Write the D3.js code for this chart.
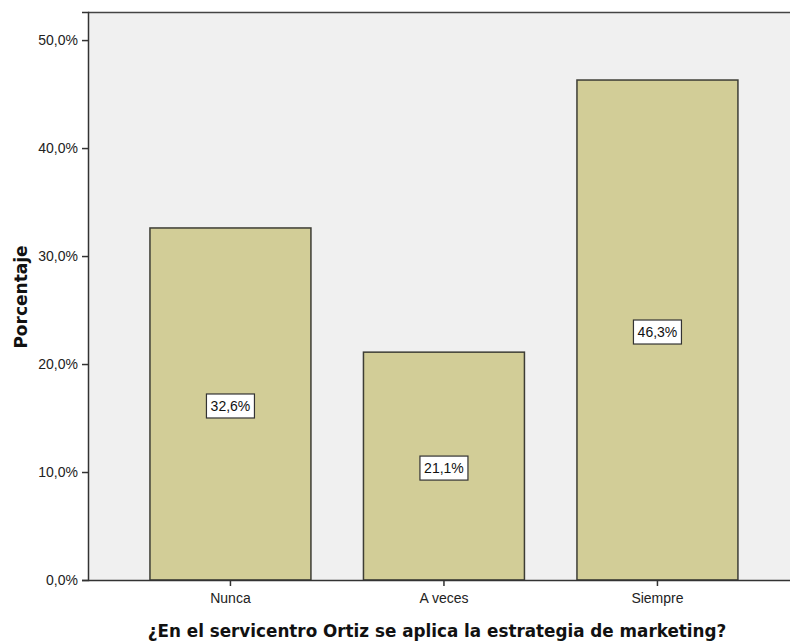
<!DOCTYPE html>
<html>
<head>
<meta charset="utf-8">
<script src="https://cdn.jsdelivr.net/npm/d3@7"></script>
<style>
  html, body { margin: 0; padding: 0; background: #ffffff; }
  svg { display: block; }
</style>
</head>
<body>
<svg id="chart" width="790" height="643"></svg>
<script>
const categories = ["Nunca", "A veces", "Siempre"];
const values = [32.6, 21.1, 46.3];
const yTicks = [0, 10, 20, 30, 40, 50];
const xTitle = "¿En el servicentro Ortiz se aplica la estrategia de marketing?";
const yTitle = "Porcentaje";

const svg = d3.select("#chart");
const plotLeft = 88, plotRight = 792, plotTop = 12, plotBottom = 580;

const y = d3.scaleLinear().domain([0, 52.6]).range([plotBottom, plotTop]);
const x = d3.scaleBand().domain(categories).range([123.7, 764.2]).paddingInner(0.246).paddingOuter(0.123);

const fmt = v => d3.format(".1f")(v).replace(".", ",") + "%";
const tickFont = "Liberation Sans, Arial, sans-serif";

// plot background
svg.append("rect")
  .attr("x", plotLeft).attr("y", plotTop)
  .attr("width", plotRight - plotLeft).attr("height", plotBottom - plotTop)
  .attr("fill", "#f0f0f0");

// top border
svg.append("line")
  .attr("x1", plotLeft).attr("x2", plotRight)
  .attr("y1", plotTop + 0.5).attr("y2", plotTop + 0.5)
  .attr("stroke", "#444").attr("stroke-width", 1.5);

// bars
svg.append("g").selectAll("rect").data(values).join("rect")
  .attr("x", (d, i) => x(categories[i]))
  .attr("y", d => y(d))
  .attr("width", x.bandwidth())
  .attr("height", d => y(0) - y(d))
  .attr("fill", "#d2cd97")
  .attr("stroke", "#3d3d35")
  .attr("stroke-width", 1.5);

// value labels
const lab = svg.append("g").selectAll("g").data(values).join("g")
  .attr("transform", (d, i) => `translate(${x(categories[i]) + x.bandwidth() / 2},${y(d / 2) + 2})`);
lab.append("rect")
  .attr("x", -24).attr("y", -12).attr("width", 48).attr("height", 24)
  .attr("fill", "#ffffff").attr("stroke", "#333").attr("stroke-width", 1.2);
lab.append("text")
  .attr("text-anchor", "middle").attr("dy", "0.36em")
  .attr("font-family", tickFont).attr("font-size", 14)
  .attr("fill", "#111")
  .text(d => fmt(d));

// y axis
const yAxis = d3.axisLeft(y).tickValues(yTicks).tickSize(6).tickPadding(4).tickFormat(fmt);
const gy = svg.append("g").attr("transform", `translate(${plotLeft},0)`).call(yAxis);
gy.select(".domain").attr("stroke", "#333").attr("stroke-width", 1.5);
gy.selectAll(".tick line").attr("stroke", "#333").attr("stroke-width", 1.5);
gy.selectAll(".tick text").attr("font-family", tickFont).attr("font-size", 14).attr("fill", "#222");

// x axis
const xAxis = d3.axisBottom(x).tickSize(6).tickPadding(7).tickSizeOuter(0);
const gx = svg.append("g").attr("transform", `translate(0,${plotBottom})`).call(xAxis);
gx.select(".domain").attr("d", `M${plotLeft},0.5H${plotRight}`).attr("stroke", "#333").attr("stroke-width", 1.5);
gx.selectAll(".tick line").attr("stroke", "#333").attr("stroke-width", 1.5);
gx.selectAll(".tick text").attr("font-family", tickFont).attr("font-size", 14).attr("fill", "#222");

// titles
svg.append("text")
  .attr("x", 437).attr("y", 637)
  .attr("text-anchor", "middle")
  .attr("font-family", "DejaVu Sans, Verdana, sans-serif").attr("font-weight", "bold").attr("font-size", 16.8)
  .attr("fill", "#111")
  .text(xTitle);

svg.append("text")
  .attr("transform", `translate(27,${297}) rotate(-90)`)
  .attr("text-anchor", "middle")
  .attr("font-family", "DejaVu Sans, Verdana, sans-serif").attr("font-weight", "bold").attr("font-size", 17)
  .attr("fill", "#111")
  .text(yTitle);
</script>
</body>
</html>
